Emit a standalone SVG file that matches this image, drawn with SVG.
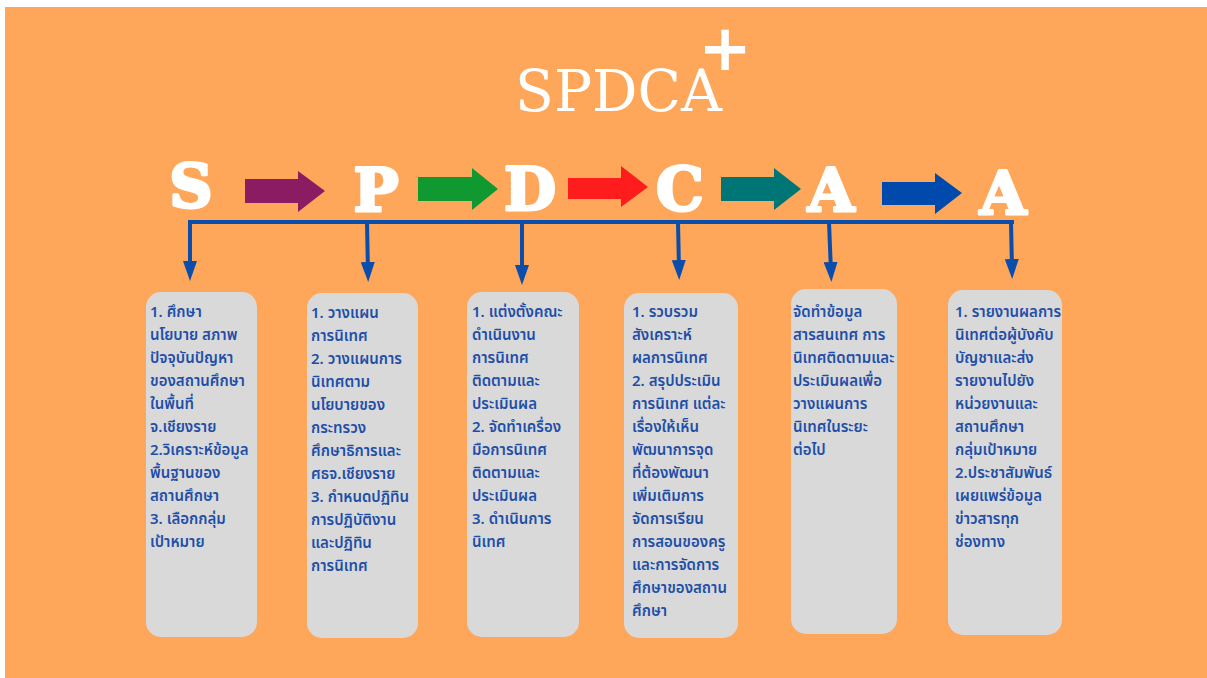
<svg xmlns="http://www.w3.org/2000/svg" width="1207" height="678" viewBox="0 0 1207 678">
<style>
.bg{fill:#FEA75A}
.title{font-family:"DejaVu Serif","Liberation Serif",serif;font-size:58px;fill:#ffffff}
.plus{font-family:"DejaVu Sans","Liberation Sans",sans-serif;font-weight:bold;font-size:64px;fill:#ffffff}
.big{font-family:"DejaVu Serif","Liberation Serif",serif;font-weight:900;font-size:60px;fill:#ffffff;stroke:#ffffff;stroke-width:3;stroke-linejoin:round}
.box{fill:#D9D9D9}
.txt{font-family:"Noto Sans Thai","Noto Sans","Loma","Tlwg Typo",sans-serif;font-size:15px;font-weight:600;fill:#1E4FA8}
.wire{stroke:#0B4DAB;stroke-width:4;fill:none}
</style>
<defs>
<marker id="ah" viewBox="0 0 20 14" refX="10" refY="7" markerWidth="20" markerHeight="14" markerUnits="userSpaceOnUse" orient="auto">
<path d="M0,0 L20,7 L0,14 z" fill="#0B4DAB"/>
</marker>
</defs>
<rect class="bg" x="5" y="7" width="1202" height="671"/>

<g id="title">
<text class="title" x="515" y="111"><tspan textLength="207" lengthAdjust="spacingAndGlyphs">SPDCA</tspan><tspan class="plus" x="725" y="70" text-anchor="middle">+</tspan></text>
</g>

<g id="node-S"><text class="big" x="191" y="207" text-anchor="middle">S</text></g>
<g id="node-P"><text class="big" x="376" y="211" text-anchor="middle">P</text></g>
<g id="node-D"><text class="big" x="530" y="210" text-anchor="middle">D</text></g>
<g id="node-C"><text class="big" x="680" y="210" text-anchor="middle">C</text></g>
<g id="node-A1"><text class="big" x="831" y="211" text-anchor="middle">A</text></g>
<g id="node-A2"><text class="big" x="1003" y="214" text-anchor="middle">A</text></g>

<g id="connectors">
<polygon fill="#8B1C62" points="245,179 298,179 298,171 325,191 298,212 298,203 245,203"/>
<polygon fill="#109930" points="418,177 472,177 472,168 498,189 472,210 472,201 418,201"/>
<polygon fill="#FF1C1C" points="568,178 621,178 621,166 648,187 621,207 621,199 568,199"/>
<polygon fill="#007575" points="721,177 774,177 774,168 801,189 774,210 774,201 721,201"/>
<polygon fill="#004AAD" points="882,182 935,182 935,173 962,193 935,214 935,205 882,205"/>
<line class="wire" x1="188" y1="222" x2="1014" y2="222"/>
<line class="wire" x1="190" y1="222" x2="190" y2="271" marker-end="url(#ah)"/>
<line class="wire" x1="367" y1="222" x2="368" y2="272" marker-end="url(#ah)"/>
<line class="wire" x1="522" y1="222" x2="522" y2="275" marker-end="url(#ah)"/>
<line class="wire" x1="678" y1="222" x2="679" y2="270" marker-end="url(#ah)"/>
<line class="wire" x1="829" y1="222" x2="831" y2="272" marker-end="url(#ah)"/>
<line class="wire" x1="1011" y1="222" x2="1012" y2="269" marker-end="url(#ah)"/>
</g>

<g id="box-S">
<rect class="box" x="146" y="292" width="111" height="345" rx="15"/>
<text class="txt">
<tspan x="150" y="317">1. ศึกษา</tspan>
<tspan x="150" y="340">นโยบาย สภาพ</tspan>
<tspan x="150" y="363">ปัจจุบันปัญหา</tspan>
<tspan x="150" y="386">ของสถานศึกษา</tspan>
<tspan x="150" y="409">ในพื้นที่</tspan>
<tspan x="150" y="432">จ.เชียงราย</tspan>
<tspan x="150" y="455">2.วิเคราะห์ข้อมูล</tspan>
<tspan x="150" y="478">พื้นฐานของ</tspan>
<tspan x="150" y="501">สถานศึกษา</tspan>
<tspan x="150" y="524">3. เลือกกลุ่ม</tspan>
<tspan x="150" y="547">เป้าหมาย</tspan>
</text>
</g>

<g id="box-P">
<rect class="box" x="307" y="293" width="111" height="345" rx="15"/>
<text class="txt">
<tspan x="311" y="318">1. วางแผน</tspan>
<tspan x="311" y="341">การนิเทศ</tspan>
<tspan x="311" y="364">2. วางแผนการ</tspan>
<tspan x="311" y="387">นิเทศตาม</tspan>
<tspan x="311" y="410">นโยบายของ</tspan>
<tspan x="311" y="433">กระทรวง</tspan>
<tspan x="311" y="456">ศึกษาธิการและ</tspan>
<tspan x="311" y="479">ศธจ.เชียงราย</tspan>
<tspan x="311" y="502">3. กำหนดปฏิทิน</tspan>
<tspan x="311" y="525">การปฏิบัติงาน</tspan>
<tspan x="311" y="548">และปฏิทิน</tspan>
<tspan x="311" y="571">การนิเทศ</tspan>
</text>
</g>

<g id="box-D">
<rect class="box" x="467" y="292" width="112" height="345" rx="15"/>
<text class="txt">
<tspan x="472" y="317">1. แต่งตั้งคณะ</tspan>
<tspan x="472" y="340">ดำเนินงาน</tspan>
<tspan x="472" y="363">การนิเทศ</tspan>
<tspan x="472" y="386">ติดตามและ</tspan>
<tspan x="472" y="409">ประเมินผล</tspan>
<tspan x="472" y="432">2. จัดทำเครื่อง</tspan>
<tspan x="472" y="455">มือการนิเทศ</tspan>
<tspan x="472" y="478">ติดตามและ</tspan>
<tspan x="472" y="501">ประเมินผล</tspan>
<tspan x="472" y="524">3. ดำเนินการ</tspan>
<tspan x="472" y="547">นิเทศ</tspan>
</text>
</g>

<g id="box-C">
<rect class="box" x="624" y="293" width="114" height="345" rx="15"/>
<text class="txt">
<tspan x="632" y="317">1. รวบรวม</tspan>
<tspan x="632" y="340">สังเคราะห์</tspan>
<tspan x="632" y="363">ผลการนิเทศ</tspan>
<tspan x="632" y="386">2. สรุปประเมิน</tspan>
<tspan x="632" y="409">การนิเทศ แต่ละ</tspan>
<tspan x="632" y="432">เรื่องให้เห็น</tspan>
<tspan x="632" y="455">พัฒนาการจุด</tspan>
<tspan x="632" y="478">ที่ต้องพัฒนา</tspan>
<tspan x="632" y="501">เพิ่มเติมการ</tspan>
<tspan x="632" y="524">จัดการเรียน</tspan>
<tspan x="632" y="547">การสอนของครู</tspan>
<tspan x="632" y="570">และการจัดการ</tspan>
<tspan x="632" y="593">ศึกษาของสถาน</tspan>
<tspan x="632" y="616">ศึกษา</tspan>
</text>
</g>

<g id="box-A1">
<rect class="box" x="791" y="289" width="106" height="345" rx="15"/>
<text class="txt">
<tspan x="793" y="317">จัดทำข้อมูล</tspan>
<tspan x="793" y="340">สารสนเทศ การ</tspan>
<tspan x="793" y="363">นิเทศติดตามและ</tspan>
<tspan x="793" y="386">ประเมินผลเพื่อ</tspan>
<tspan x="793" y="409">วางแผนการ</tspan>
<tspan x="793" y="432">นิเทศในระยะ</tspan>
<tspan x="793" y="455">ต่อไป</tspan>
</text>
</g>

<g id="box-A2">
<rect class="box" x="948" y="290" width="114" height="345" rx="15"/>
<text class="txt">
<tspan x="955" y="317">1. รายงานผลการ</tspan>
<tspan x="955" y="340">นิเทศต่อผู้บังคับ</tspan>
<tspan x="955" y="363">บัญชาและส่ง</tspan>
<tspan x="955" y="386">รายงานไปยัง</tspan>
<tspan x="955" y="409">หน่วยงานและ</tspan>
<tspan x="955" y="432">สถานศึกษา</tspan>
<tspan x="955" y="455">กลุ่มเป้าหมาย</tspan>
<tspan x="955" y="478">2.ประชาสัมพันธ์</tspan>
<tspan x="955" y="501">เผยแพร่ข้อมูล</tspan>
<tspan x="955" y="524">ข่าวสารทุก</tspan>
<tspan x="955" y="547">ช่องทาง</tspan>
</text>
</g>
</svg>
